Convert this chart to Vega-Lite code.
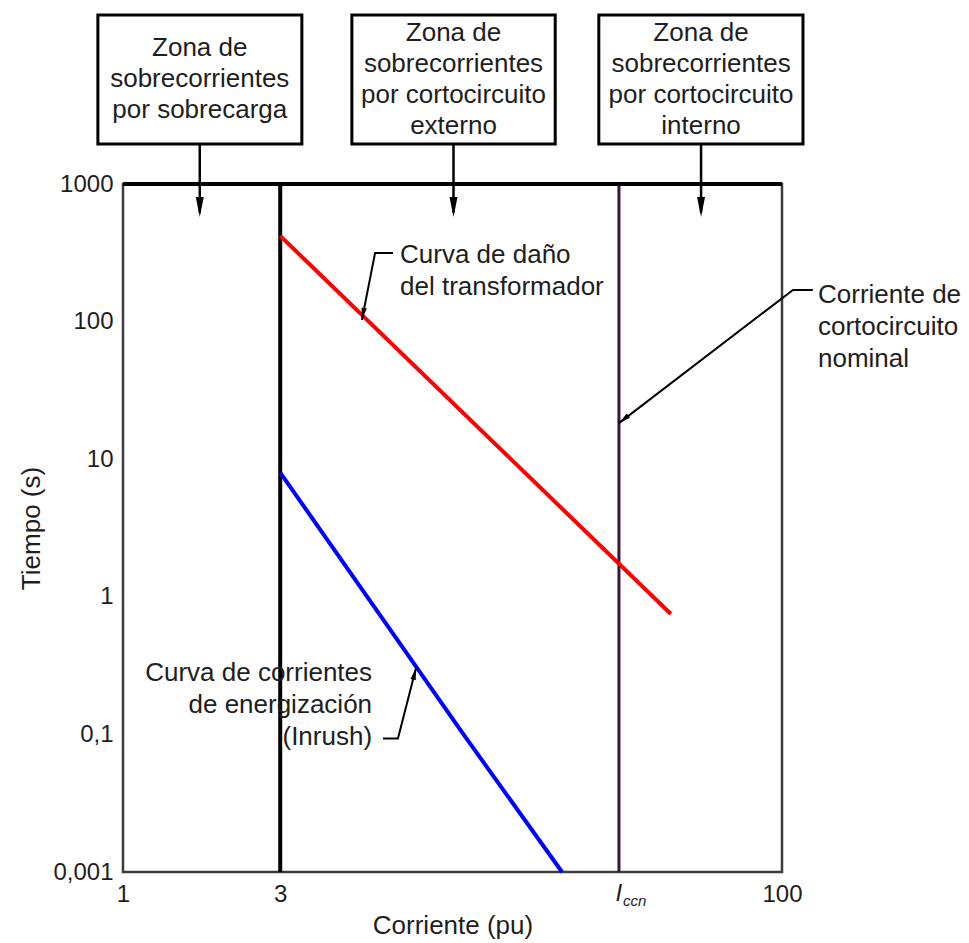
{
  "$schema": "https://vega.github.io/schema/vega-lite/v6.json",
  "width": 659,
  "height": 688,
  "autosize": {"type": "none"},
  "padding": {"left": 123, "top": 184, "right": 187, "bottom": 71},
  "background": "white",
  "config": {
    "font": "Liberation Sans",
    "view": {"stroke": "#3c3c3c", "strokeWidth": 2.5},
    "axis": {"grid": false, "ticks": false, "domain": false, "labelColor": "#1e1e1e", "titleColor": "#1e1e1e", "labelFontSize": 24, "titleFontSize": 26, "titleFontWeight": "normal", "labelOverlap": false, "labelFlush": false}
  },
  "datasets": {
    "curves": [
      {"serie": "Curva de daño del transformador", "x": 3, "y": 420},
      {"serie": "Curva de daño del transformador", "x": 46, "y": 0.75},
      {"serie": "Curva de corrientes de energización (Inrush)", "x": 3, "y": 8},
      {"serie": "Curva de corrientes de energización (Inrush)", "x": 10.8, "y": 0.1},
      {"serie": "Curva de corrientes de energización (Inrush)", "x": 21.5, "y": 0.001}
    ],
    "limits": [
      {"nombre": "3 pu", "x": 3},
      {"nombre": "Iccn", "x": 32}
    ],
    "leaders": [
      {"g": "dano", "o": 1, "x": 6.6, "y": 315},
      {"g": "dano", "o": 2, "x": 5.82, "y": 315},
      {"g": "dano", "o": 3, "x": 5.31, "y": 103},
      {"g": "iccn", "o": 1, "x": 124, "y": 170},
      {"g": "iccn", "o": 2, "x": 108, "y": 170},
      {"g": "iccn", "o": 3, "x": 32, "y": 18.3},
      {"g": "inrush", "o": 1, "x": 6.15, "y": 0.0875},
      {"g": "inrush", "o": 2, "x": 6.83, "y": 0.0875},
      {"g": "inrush", "o": 3, "x": 7.75, "y": 0.304}
    ],
    "zones": [
      {"zona": "Zona de\nsobrecorrientes\npor sobrecarga", "x1": 0.839, "x2": 3.49, "xc": 1.71, "ytxt": 9730},
      {"zona": "Zona de\nsobrecorrientes\npor cortocircuito\nexterno", "x1": 4.95, "x2": 20.5, "xc": 10.07, "ytxt": 12500},
      {"zona": "Zona de\nsobrecorrientes\npor cortocircuito\ninterno", "x1": 27.8, "x2": 115.8, "xc": 56.8, "ytxt": 12500}
    ],
    "notes": [
      {"id": "dano", "texto": "Curva de daño\ndel transformador", "x": 6.93, "y": 305},
      {"id": "iccn", "texto": "Corriente de\ncortocircuito\nnominal", "x": 128.6, "y": 156},
      {"id": "inrush", "texto": "Curva de corrientes\nde energización\n(Inrush)", "x": 5.7, "y": 0.28}
    ]
  },
  "layer": [
    {
      "data": {"name": "limits"},
      "transform": [{"filter": "datum.nombre == '3 pu'"}],
      "mark": {"type": "rule", "color": "#000000", "strokeWidth": 4},
      "encoding": {
        "x": {"field": "x", "type": "quantitative", "scale": {"type": "log", "domain": [1, 100], "nice": false},
          "axis": {"values": [1, 3, 32, 100], "labelExpr": "datum.value == 32 ? '' : datum.value", "title": "Corriente (pu)", "labelPadding": 10, "titlePadding": 6}},
        "y": {"datum": 0.001, "type": "quantitative", "scale": {"type": "log", "domain": [0.001, 0.1, 1, 10, 100, 1000], "range": [688, 550.4, 412.8, 275.2, 137.6, 0], "nice": false},
          "axis": {"values": [0.001, 0.1, 1, 10, 100, 1000], "format": "~g", "labelExpr": "replace(datum.label, '.', ',')", "title": "Tiempo (s)", "labelPadding": 10, "titlePadding": 8}},
        "y2": {"datum": 1000}
      }
    },
    {
      "data": {"name": "limits"},
      "transform": [{"filter": "datum.nombre == 'Iccn'"}],
      "mark": {"type": "rule", "color": "#3b1240", "strokeWidth": 3},
      "encoding": {
        "x": {"field": "x", "type": "quantitative"},
        "y": {"datum": 0.001, "type": "quantitative"},
        "y2": {"datum": 1000}
      }
    },
    {
      "data": {"name": "curves"},
      "mark": {"type": "line", "strokeWidth": 4},
      "encoding": {
        "x": {"field": "x", "type": "quantitative"},
        "y": {"field": "y", "type": "quantitative"},
        "color": {"field": "serie", "type": "nominal", "legend": null,
          "scale": {"domain": ["Curva de daño del transformador", "Curva de corrientes de energización (Inrush)"], "range": ["#ff0000", "#0000ff"]}}
      }
    },
    {
      "data": {"values": [{}]},
      "mark": {"type": "rule", "color": "#000000", "strokeWidth": 4},
      "encoding": {
        "x": {"datum": 1, "type": "quantitative"},
        "x2": {"datum": 100},
        "y": {"datum": 1000, "type": "quantitative"}
      }
    },
    {
      "data": {"name": "leaders"},
      "mark": {"type": "line", "color": "#000000", "strokeWidth": 2},
      "encoding": {
        "x": {"field": "x", "type": "quantitative"},
        "y": {"field": "y", "type": "quantitative"},
        "detail": {"field": "g"},
        "order": {"field": "o"}
      }
    },
    {
      "data": {"name": "leaders"},
      "transform": [{"filter": "datum.o == 3 && datum.g == 'dano'"}],
      "mark": {"type": "point", "shape": "M0,0L-0.45,-2L0.45,-2Z", "filled": true, "color": "#000000", "opacity": 1, "size": 144, "angle": 11},
      "encoding": {"x": {"field": "x", "type": "quantitative"}, "y": {"field": "y", "type": "quantitative"}}
    },
    {
      "data": {"name": "leaders"},
      "transform": [{"filter": "datum.o == 3 && datum.g == 'iccn'"}],
      "mark": {"type": "point", "shape": "M0,0L-0.45,-2L0.45,-2Z", "filled": true, "color": "#000000", "opacity": 1, "size": 144, "angle": 52},
      "encoding": {"x": {"field": "x", "type": "quantitative"}, "y": {"field": "y", "type": "quantitative"}}
    },
    {
      "data": {"name": "leaders"},
      "transform": [{"filter": "datum.o == 3 && datum.g == 'inrush'"}],
      "mark": {"type": "point", "shape": "M0,0L-0.45,-2L0.45,-2Z", "filled": true, "color": "#000000", "opacity": 1, "size": 144, "angle": 194},
      "encoding": {"x": {"field": "x", "type": "quantitative"}, "y": {"field": "y", "type": "quantitative"}}
    },
    {
      "data": {"name": "zones"},
      "mark": {"type": "rect", "fill": "#ffffff", "stroke": "#000000", "strokeWidth": 3},
      "encoding": {
        "x": {"field": "x1", "type": "quantitative"},
        "x2": {"field": "x2"},
        "y": {"datum": 16900, "type": "quantitative"},
        "y2": {"datum": 1953}
      }
    },
    {
      "data": {"name": "zones"},
      "mark": {"type": "text", "lineBreak": "\n", "fontSize": 26, "lineHeight": 31, "align": "center", "baseline": "middle", "color": "#1e1e1e"},
      "encoding": {
        "x": {"field": "xc", "type": "quantitative"},
        "y": {"field": "ytxt", "type": "quantitative"},
        "text": {"field": "zona"}
      }
    },
    {
      "data": {"name": "zones"},
      "mark": {"type": "rule", "color": "#000000", "strokeWidth": 2.5},
      "encoding": {
        "x": {"field": "xc", "type": "quantitative"},
        "y": {"datum": 1953, "type": "quantitative"},
        "y2": {"datum": 620}
      }
    },
    {
      "data": {"name": "zones"},
      "mark": {"type": "point", "shape": "M0,0L-0.4,-2L0.4,-2Z", "filled": true, "color": "#000000", "opacity": 1, "size": 400, "angle": 0},
      "encoding": {
        "x": {"field": "xc", "type": "quantitative"},
        "y": {"datum": 575, "type": "quantitative"}
      }
    },
    {
      "data": {"name": "notes"},
      "transform": [{"filter": "datum.id != 'inrush'"}],
      "mark": {"type": "text", "lineBreak": "\n", "fontSize": 26, "lineHeight": 32, "align": "left", "baseline": "middle", "color": "#1e1e1e"},
      "encoding": {
        "x": {"field": "x", "type": "quantitative"},
        "y": {"field": "y", "type": "quantitative"},
        "text": {"field": "texto"}
      }
    },
    {
      "data": {"name": "notes"},
      "transform": [{"filter": "datum.id == 'inrush'"}],
      "mark": {"type": "text", "lineBreak": "\n", "fontSize": 26, "lineHeight": 32, "align": "right", "baseline": "middle", "color": "#1e1e1e"},
      "encoding": {
        "x": {"field": "x", "type": "quantitative"},
        "y": {"field": "y", "type": "quantitative"},
        "text": {"field": "texto"}
      }
    },
    {
      "data": {"name": "limits"},
      "transform": [{"filter": "datum.nombre == 'Iccn'"}],
      "mark": {"type": "text", "text": "I", "fontSize": 24, "fontStyle": "italic", "align": "center", "baseline": "top", "dy": 10, "color": "#1e1e1e"},
      "encoding": {
        "x": {"field": "x", "type": "quantitative"},
        "y": {"datum": 0.001, "type": "quantitative"}
      }
    },
    {
      "data": {"name": "limits"},
      "transform": [{"filter": "datum.nombre == 'Iccn'"}],
      "mark": {"type": "text", "text": "ccn", "fontSize": 15, "fontStyle": "italic", "align": "left", "baseline": "top", "dx": 4, "dy": 22, "color": "#1e1e1e"},
      "encoding": {
        "x": {"field": "x", "type": "quantitative"},
        "y": {"datum": 0.001, "type": "quantitative"}
      }
    }
  ]
}
